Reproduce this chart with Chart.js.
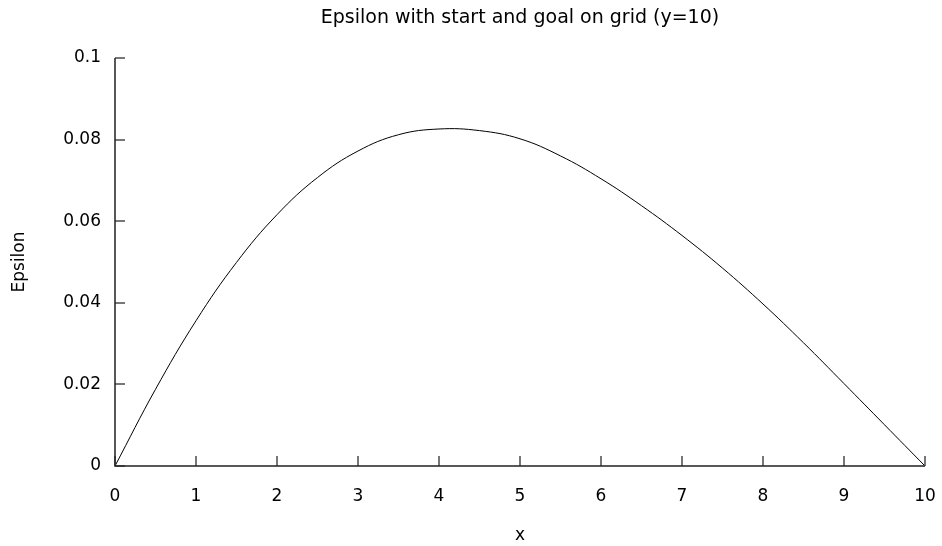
<!DOCTYPE html>
<html>
<head>
<meta charset="utf-8">
<script src="https://cdn.jsdelivr.net/npm/chart.js@4/dist/chart.umd.min.js"></script>
<style>
  html, body { margin: 0; padding: 0; background: #fff; }
  #wrap { width: 942px; height: 546px; }
</style>
</head>
<body>
<div id="wrap"><canvas id="myChart"></canvas></div>
<script>
// valeurs
const xValues = [0, 0.5, 1, 1.5, 2, 2.5, 3, 3.5, 4, 4.5, 5, 5.5, 6, 6.5, 7, 7.5, 8, 8.5, 9, 9.5, 10];
const epsilon = [0, 0.0188, 0.0356, 0.0499, 0.0616, 0.0707, 0.0772, 0.0812, 0.0826, 0.0822, 0.0802, 0.0760, 0.0704, 0.0638, 0.0565, 0.0485, 0.0397, 0.0302, 0.0202, 0.0101, 0];
const xTicks = [0, 1, 2, 3, 4, 5, 6, 7, 8, 9, 10];
const yTicks = [0, 0.02, 0.04, 0.06, 0.08, 0.1];

const police = "'DejaVu Sans', Verdana, sans-serif";
Chart.defaults.font.family = police;
Chart.defaults.color = '#000';

// petits traits vers l'intérieur, comme gnuplot
const ticksInterieurs = {
  id: 'ticksInterieurs',
  afterDraw(chart) {
    const c = chart.ctx;
    const sx = chart.scales.x, sy = chart.scales.y;
    const a = chart.chartArea;
    c.save();
    c.strokeStyle = '#777';
    c.lineWidth = 2;
    c.beginPath();
    xTicks.forEach(v => {
      const px = Math.round(sx.getPixelForValue(v));
      c.moveTo(px, a.bottom);
      c.lineTo(px, a.bottom - 10);
    });
    yTicks.forEach(v => {
      const py = Math.round(sy.getPixelForValue(v));
      c.moveTo(a.left, py);
      c.lineTo(a.left + 10, py);
    });
    c.stroke();
    c.strokeStyle = '#222';
    c.lineWidth = 1.5;
    c.beginPath();
    c.moveTo(a.left, a.top);
    c.lineTo(a.left, a.bottom);
    c.lineTo(a.right, a.bottom);
    c.stroke();
    c.restore();
  }
};

const ctx = document.getElementById('myChart');

new Chart(ctx, {
  type: 'line',
  data: {
    datasets: [{
      label: 'Epsilon',
      data: xValues.map((x, i) => ({ x: x, y: epsilon[i] })),
      borderColor: '#000',
      borderWidth: 1,
      pointRadius: 0,
      tension: 0.4
    }]
  },
  options: {
    responsive: true,
    maintainAspectRatio: false,
    animation: false,
    layout: { padding: { left: 0, right: 17, top: 0, bottom: 0 } },
    plugins: {
      legend: { display: false },
      tooltip: { enabled: false },
      title: {
        display: true,
        text: 'Epsilon with start and goal on grid (y=10)',
        fullSize: false,
        color: '#000',
        font: { size: 19, weight: 'normal' },
        padding: { top: 7, bottom: 28.2 }
      }
    },
    scales: {
      x: {
        type: 'linear',
        min: 0,
        max: 10,
        afterBuildTicks: s => { s.ticks = xTicks.map(v => ({ value: v })); },
        afterFit: s => { s.height = 80; s.paddingLeft = 0; s.paddingRight = 0; },
        grid: { display: false, drawTicks: false },
        border: { display: false },
        ticks: { padding: 20, font: { size: 17 }, color: '#000', maxRotation: 0 },
        title: { display: true, text: 'x', font: { size: 17 }, color: '#000', padding: { top: 14, bottom: 0 } }
      },
      y: {
        type: 'linear',
        min: 0,
        max: 0.1,
        afterBuildTicks: s => { s.ticks = yTicks.map(v => ({ value: v })); },
        afterFit: s => { s.width = 115; },
        grid: { display: false, drawTicks: false },
        border: { display: false },
        ticks: { padding: 14, font: { size: 17 }, color: '#000', callback: v => String(+v.toFixed(2)) },
        title: { display: true, text: 'Epsilon', font: { size: 17 }, color: '#000', padding: { top: 9, bottom: 0 } }
      }
    }
  },
  plugins: [ticksInterieurs]
});
</script>
</body>
</html>
